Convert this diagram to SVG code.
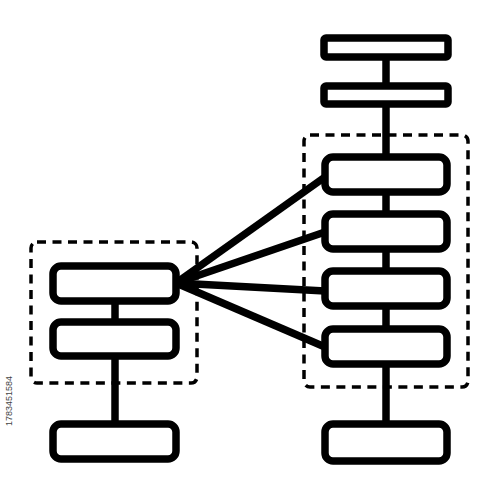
<svg xmlns="http://www.w3.org/2000/svg" width="500" height="500" viewBox="0 0 500 500">
<style>
.n{fill:#fff;stroke:#000;stroke-width:7.5;stroke-linejoin:round}
.c{stroke:#000;stroke-width:7.5;fill:none}
.d{fill:none;stroke:#000;stroke-width:3.5;stroke-dasharray:9 6.5}
.id{font-family:"Liberation Sans",Arial,sans-serif;font-size:9px;fill:#444}
</style>
<rect width="500" height="500" fill="#fff"/>
<g id="groups">
<rect class="d" x="304" y="135" width="164" height="252" rx="6"/>
<rect class="d" x="31" y="242" width="166" height="141" rx="6"/>
</g>
<g id="connectors">
<line class="c" x1="386" y1="58" x2="386" y2="90"/>
<line class="c" x1="386" y1="104" x2="386" y2="160"/>
<line class="c" x1="386" y1="190" x2="386" y2="218"/>
<line class="c" x1="386" y1="246" x2="386" y2="274"/>
<line class="c" x1="386" y1="302" x2="386" y2="332"/>
<line class="c" x1="386" y1="362" x2="386" y2="428"/>
<line class="c" x1="115" y1="296" x2="115" y2="326"/>
<line class="c" x1="115" y1="352" x2="115" y2="428"/>
<line class="c" x1="176" y1="283" x2="325" y2="177"/>
<line class="c" x1="176" y1="283" x2="325" y2="232"/>
<line class="c" x1="176" y1="283" x2="325" y2="291"/>
<line class="c" x1="176" y1="283" x2="325" y2="347"/>
</g>
<g id="top1"><rect class="n" x="324" y="38" width="124" height="19" rx="2"/></g>
<g id="top2"><rect class="n" x="324" y="86" width="124" height="18" rx="2"/></g>
<g id="r1"><rect class="n" x="325" y="157" width="122" height="35" rx="8"/></g>
<g id="r2"><rect class="n" x="325" y="214" width="122" height="35" rx="8"/></g>
<g id="r3"><rect class="n" x="325" y="271" width="122" height="35" rx="8"/></g>
<g id="r4"><rect class="n" x="325" y="329" width="122" height="35" rx="8"/></g>
<g id="r5"><rect class="n" x="325" y="424" width="122" height="37" rx="8"/></g>
<g id="l1"><rect class="n" x="53" y="266" width="123" height="35" rx="8"/></g>
<g id="l2"><rect class="n" x="53" y="322" width="123" height="34" rx="8"/></g>
<g id="l3"><rect class="n" x="53" y="424" width="123" height="35" rx="8"/></g>
<text class="id" transform="translate(12,426) rotate(-90)">1783451584</text>
</svg>
